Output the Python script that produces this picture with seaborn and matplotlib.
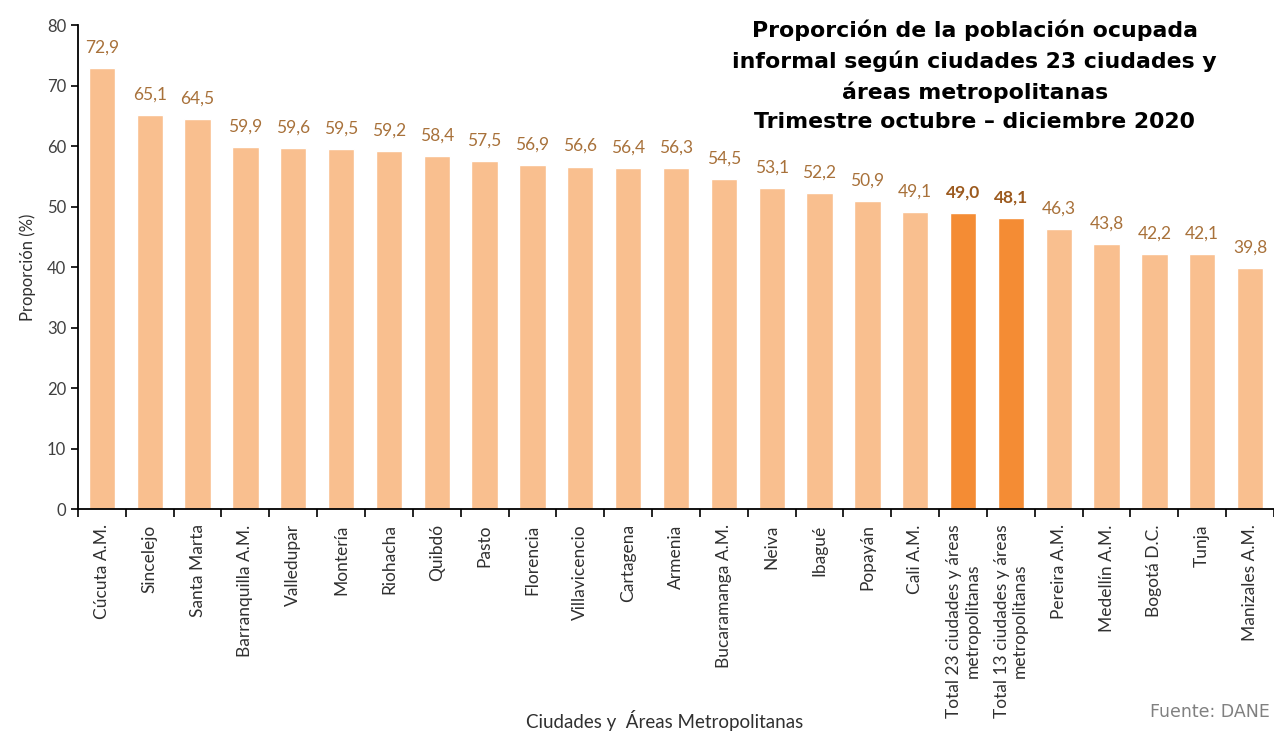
import matplotlib
matplotlib.use("Agg")
import matplotlib.pyplot as plt
import seaborn as sns
import pandas as pd
import numpy as np

ciudades = ["Cúcuta A.M.", "Sincelejo", "Santa Marta", "Barranquilla A.M.", "Valledupar",
            "Montería", "Riohacha", "Quibdó", "Pasto", "Florencia", "Villavicencio",
            "Cartagena", "Armenia", "Bucaramanga A.M.", "Neiva", "Ibagué", "Popayán",
            "Cali A.M.", "Total 23 ciudades y áreas\nmetropolitanas",
            "Total 13 ciudades y áreas\nmetropolitanas", "Pereira A.M.", "Medellín A.M.",
            "Bogotá D.C.", "Tunja", "Manizales A.M."]
proporcion = [72.9, 65.1, 64.5, 59.9, 59.6, 59.5, 59.2, 58.4, 57.5, 56.9, 56.6, 56.4,
              56.3, 54.5, 53.1, 52.2, 50.9, 49.1, 49.0, 48.1, 46.3, 43.8, 42.2, 42.1, 39.8]
totales = ["Total 23 ciudades y áreas\nmetropolitanas", "Total 13 ciudades y áreas\nmetropolitanas"]

df = pd.DataFrame({"ciudad": ciudades, "proporcion": proporcion})

sns.set_style("white")
plt.rcParams["font.family"] = ["Lato", "DejaVu Sans"]

color_claro = "#F9BF8F"
color_fuerte = "#F48C34"
colores = [color_fuerte if c in totales else color_claro for c in ciudades]

fig = plt.figure(figsize=(12.74, 7.34), dpi=100)
ax = fig.add_axes([0.0612, 0.3065, 0.9388, 0.6594])

sns.barplot(data=df, x="ciudad", y="proporcion", hue="ciudad", palette=colores,
            legend=False, width=0.55, ax=ax, saturation=1)

# etiquetas de valor
for i, cont in enumerate(ax.containers):
    txt = f"{proporcion[i]:.1f}".replace(".", ",")
    negrita = ciudades[i] in totales
    ax.bar_label(cont, labels=[txt], padding=9, fontsize=12.5,
                 color="#9C5A1E" if negrita else "#A8713A",
                 fontweight="bold" if negrita else "normal")

ax.set_ylim(0, 80)
ax.set_xlim(-0.5, len(ciudades) - 0.5)
ax.set_yticks(range(0, 81, 10))
ax.tick_params(axis="y", labelsize=12, labelcolor="#404040", length=5, width=1.2,
               color="black", direction="out", left=True)
ax.set_xticks(range(len(ciudades)))
ax.set_xticklabels(ciudades, rotation=90, fontsize=12.5, color="#303030")
ax.tick_params(axis="x", which="major", length=0, pad=11)
ax.set_xticks(np.arange(-0.5, len(ciudades), 1), minor=True)
ax.tick_params(axis="x", which="minor", length=6, width=1.2, color="black", bottom=True)

for s in ["top", "right"]:
    ax.spines[s].set_visible(False)
for s in ["left", "bottom"]:
    ax.spines[s].set_color("black")
    ax.spines[s].set_linewidth(1.3)

ax.set_ylabel("Proporción (%)", fontsize=12, color="#303030", labelpad=8)
ax.set_xlabel("")
fig.text(0.522, 0.019, "Ciudades y  Áreas Metropolitanas", ha="center", va="center",
         fontsize=13.5, color="#303030")

fig.text(0.765, 0.974,
         "Proporción de la población ocupada\ninformal según ciudades 23 ciudades y\n"
         "áreas metropolitanas\nTrimestre octubre – diciembre 2020",
         ha="center", va="top", fontsize=15.8, fontweight="bold", family="DejaVu Sans",
         linespacing=1.55, color="black")

fig.text(0.997, 0.03, "Fuente: DANE", ha="right", va="center", fontsize=12.5,
         color="#808080", family="DejaVu Sans")

fig.savefig("out.png", dpi=100)
